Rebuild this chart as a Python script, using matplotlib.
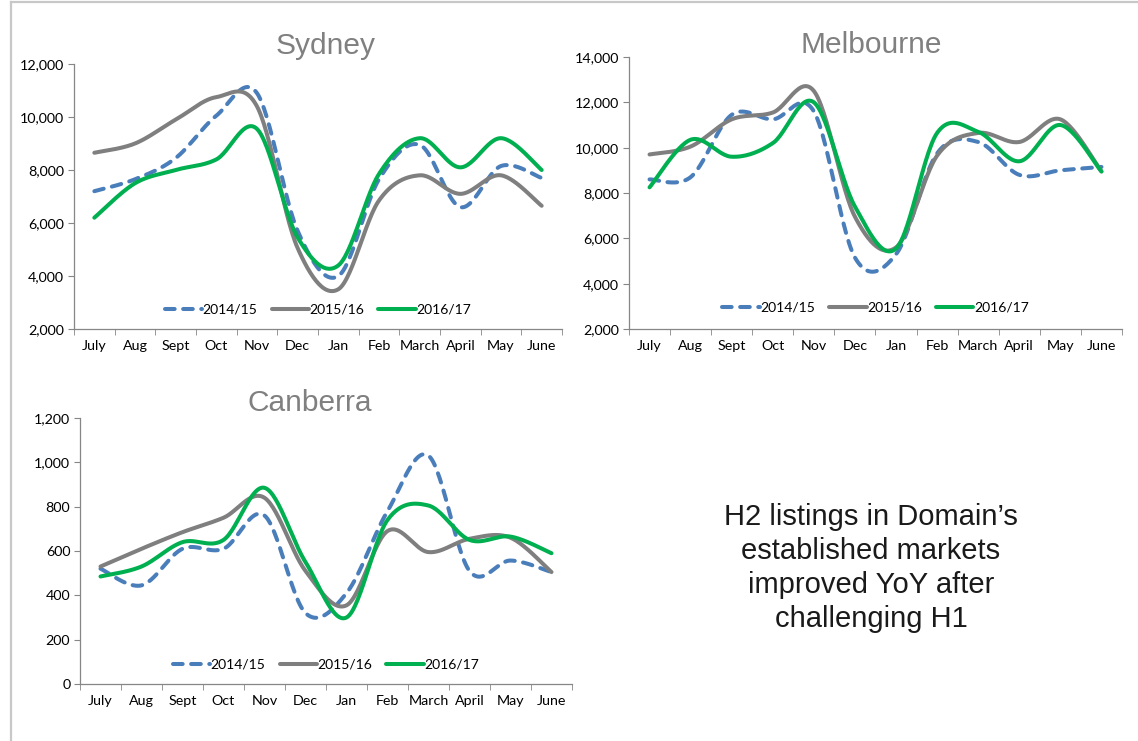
import numpy as np
import matplotlib.pyplot as plt
from matplotlib.lines import Line2D

months = ["July", "Aug", "Sept", "Oct", "Nov", "Dec", "Jan",
          "Feb", "March", "April", "May", "June"]
seasons = ["2014/15", "2015/16", "2016/17"]

sydney_1415 = [7200, 7650, 8450, 10050, 10900, 5700, 4000, 7650, 8950, 6600, 8150, 7700]
sydney_1516 = [8650, 9000, 9900, 10750, 10400, 5050, 3500, 6850, 7800, 7100, 7800, 6650]
sydney_1617 = [6200, 7500, 8000, 8400, 9550, 5450, 4400, 7850, 9200, 8100, 9200, 8000]

melbourne_1415 = [8600, 8700, 11450, 11250, 11600, 5150, 5300, 9750, 10250, 8800, 9000, 9150]
melbourne_1516 = [9700, 10050, 11250, 11550, 12500, 6950, 5600, 9650, 10650, 10250, 11250, 8950]
melbourne_1617 = [8250, 10350, 9600, 10200, 12000, 7400, 5550, 10650, 10700, 9400, 11000, 8950]

canberra_1415 = [520, 445, 610, 610, 760, 320, 410, 780, 1030, 510, 557, 505]
canberra_1516 = [530, 610, 685, 750, 840, 510, 355, 690, 595, 655, 660, 505]
canberra_1617 = [485, 530, 640, 650, 885, 550, 300, 740, 805, 650, 665, 590]

BLUE = "#4a7ebb"
GREY = "#7f7f7f"
GREEN = "#00b050"
AXIS = "#868686"
TITLE = "#808080"

plt.rcParams["font.family"] = ["Lato", "DejaVu Sans"]


def smooth(vals, n=30):
    """Excel-style smoothed line: Catmull-Rom Bezier through the points."""
    x = np.arange(len(vals), dtype=float)
    y = np.asarray(vals, dtype=float)
    px = np.concatenate([[x[0]], x, [x[-1]]])
    py = np.concatenate([[y[0]], y, [y[-1]]])
    t = np.linspace(0, 1, n)[:, None]
    xs, ys = [], []
    for i in range(1, len(px) - 2):
        p0 = np.array([px[i], py[i]])
        p3 = np.array([px[i + 1], py[i + 1]])
        c1 = p0 + (np.array([px[i + 1], py[i + 1]]) - np.array([px[i - 1], py[i - 1]])) / 6
        c2 = p3 - (np.array([px[i + 2], py[i + 2]]) - np.array([px[i], py[i]])) / 6
        b = ((1 - t) ** 3) * p0 + 3 * ((1 - t) ** 2) * t * c1 + 3 * (1 - t) * t ** 2 * c2 + t ** 3 * p3
        xs.append(b[:, 0])
        ys.append(b[:, 1])
    return np.concatenate(xs), np.concatenate(ys)


def px_rect(left, right, top, bottom, w=1138, h=741):
    return [left / w, 1 - bottom / h, (right - left) / w, (bottom - top) / h]


def panel(rect, series, ymax, step, title, title_xy, leg_y):
    ax = fig.add_axes(rect)
    styles = [dict(color=BLUE, dashes=(2.4, 2.1), dash_capstyle="round"),
              dict(color=GREY, solid_capstyle="round"),
              dict(color=GREEN, solid_capstyle="round")]
    for vals, st, lab in zip(series, styles, seasons):
        sx, sy = smooth(vals)
        ax.plot(sx, sy, lw=2.9, label=lab, **st)
    ymin = 2000 if ymax > 2000 else 0
    ticks = np.arange(ymin, ymax + 1, step)
    ax.set_ylim(ymin, ymax)
    ax.set_yticks(ticks)
    ax.set_yticklabels([f"{v:,}" for v in ticks])
    ax.set_xlim(-0.5, len(months) - 0.5)
    ax.set_xticks(np.arange(len(months)))
    ax.set_xticklabels(months)
    ax.set_xticks(np.arange(-0.5, len(months)), minor=True)
    ax.tick_params(axis="x", which="major", length=0, pad=8, labelsize=10.3)
    ax.tick_params(axis="x", which="minor", length=4, color=AXIS, direction="out")
    ax.tick_params(axis="y", length=4, color=AXIS, labelsize=10.3, pad=3)
    for s in ("top", "right"):
        ax.spines[s].set_visible(False)
    for s in ("left", "bottom"):
        ax.spines[s].set_color(AXIS)
        ax.spines[s].set_linewidth(0.9)
    ax.legend(loc="center", bbox_to_anchor=(0.5, leg_y), ncol=3, frameon=False,
              fontsize=10, handlelength=2.7, handletextpad=0.05, columnspacing=1.0)
    fig.text(title_xy[0], title_xy[1], title, ha="center", va="center",
             fontsize=21.5, color=TITLE, family="Liberation Sans")
    return ax


fig = plt.figure(figsize=(11.38, 7.41), dpi=100)

panel(px_rect(74, 562, 64, 329),
      [sydney_1415, sydney_1516, sydney_1617], 12000, 2000,
      "Sydney", (326 / 1138, 1 - 46 / 741), 0.072)
panel(px_rect(629, 1122, 57, 329),
      [melbourne_1415, melbourne_1516, melbourne_1617], 14000, 2000,
      "Melbourne", (871 / 1138, 1 - 45 / 741), 0.078)
panel(px_rect(80, 572, 418, 684),
      [canberra_1415, canberra_1516, canberra_1617], 1200, 200,
      "Canberra", (310 / 1138, 1 - 403 / 741), 0.072)

fig.text(871 / 1138, 1 - 568 / 741,
         "H2 listings in Domain\u2019s\nestablished markets\nimproved YoY after\nchallenging H1",
         ha="center", va="center", fontsize=21, linespacing=1.27,
         color="#1a1a1a", family="Liberation Sans")

# slide frame along the top and left edges
fig.add_artist(Line2D([0.0097, 1.0], [0.997, 0.997], color="#c8c8c8", lw=1.6))
fig.add_artist(Line2D([0.0097, 0.0097], [0.0, 0.997], color="#c8c8c8", lw=1.6))

fig.savefig("out.png", dpi=100)
